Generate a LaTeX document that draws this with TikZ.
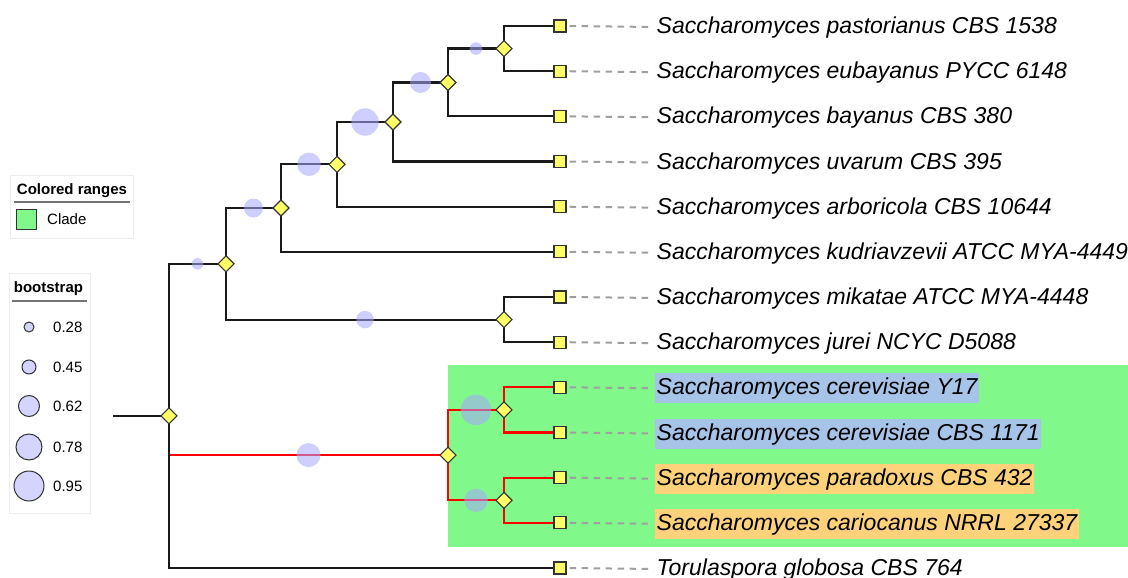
\documentclass[tikz,border=0pt]{standalone}
\usepackage{fontspec}
\setmainfont{Liberation Sans}
\usetikzlibrary{shapes.geometric,calc}
\pgfdeclarelayer{back}
\pgfdeclarelayer{edges}
\pgfdeclarelayer{bubbles}
\pgfsetlayers{back,edges,bubbles,main}
\definecolor{nodey}{HTML}{FFFF66}
\definecolor{clade}{HTML}{80F98A}
\definecolor{hlblue}{HTML}{A6C3E8}
\definecolor{hlorange}{HTML}{FDD27A}
\definecolor{bub}{RGB}{165,165,255}
\definecolor{legfill}{RGB}{212,212,255}
\definecolor{edgec}{HTML}{1A1A1A}
\begin{document}
\begin{tikzpicture}[x=1pt,y=-1pt,
  leaf/.style={rectangle,draw=black!80,line width=1.3pt,fill=nodey,minimum size=12pt,inner sep=0pt},
  split/.style={diamond,draw=black!80,line width=1.1pt,fill=nodey,minimum size=16.5pt,inner sep=0pt},
  edge/.style={draw=edgec,line width=2.2pt},
  redge/.style={draw=red,line width=2.2pt},
  guide/.style={draw=gray!75,line width=2pt,dash pattern=on 6.5pt off 5.5pt,shorten <=3pt,shorten >=3pt},
  taxon/.style={anchor=base west,inner xsep=1.5pt,inner ysep=0pt,text height=21.5pt,text depth=8.5pt,font=\fontsize{23}{27}\selectfont\itshape},
  bubble/.style={circle,fill=bub,fill opacity=0.55,inner sep=0pt,minimum size=#1},
  legbox/.style={draw=black!7,fill=white,line width=1pt,anchor=north west,inner sep=0pt},
  legtitle/.style={anchor=base,inner sep=0pt,font=\fontsize{15}{18}\selectfont\bfseries},
  legtext/.style={anchor=west,inner sep=0pt,font=\fontsize{15}{18}\selectfont},
  legline/.style={draw=black!55,line width=2pt},
  legbub/.style={circle,draw=black!80,line width=1pt,fill=legfill,inner sep=0pt,minimum size=#1}
]
\useasboundingbox (0,0) rectangle (1128,578);

% leaves
\foreach \i/\y in {1/26,2/71.2,3/116.3,4/161.5,5/206.7,6/251.8,7/297,8/342.2,9/387.3,10/432.5,11/477.7,12/522.8,13/568}
  \node[leaf] (L\i) at (560,\y) {};

% internal nodes
\node[split] (A) at (504,48.6) {};
\node[split] (B) at (448,82.5) {};
\node[split] (C) at (393,122) {};
\node[split] (D) at (337,164.3) {};
\node[split] (E) at (281,208) {};
\node[split] (F) at (504,319.6) {};
\node[split] (G) at (226,263.8) {};
\node[split] (H) at (504,409.9) {};
\node[split] (I) at (504,500.3) {};
\node[split] (J) at (448,455.1) {};
\node[split] (R) at (169,415.9) {};
\coordinate (stub) at (113,415.9);

% taxa labels
\path (L1) ++(95,7.5) node[taxon] (t1) {Saccharomyces pastorianus CBS 1538};
\path (L2) ++(95,7.5) node[taxon] (t2) {Saccharomyces eubayanus PYCC 6148};
\path (L3) ++(95,7.5) node[taxon] (t3) {Saccharomyces bayanus CBS 380};
\path (L4) ++(95,7.5) node[taxon] (t4) {Saccharomyces uvarum CBS 395};
\path (L5) ++(95,7.5) node[taxon] (t5) {Saccharomyces arboricola CBS 10644};
\path (L6) ++(95,7.5) node[taxon] (t6) {Saccharomyces kudriavzevii ATCC MYA-4449};
\path (L7) ++(95,7.5) node[taxon] (t7) {Saccharomyces mikatae ATCC MYA-4448};
\path (L8) ++(95,7.5) node[taxon] (t8) {Saccharomyces jurei NCYC D5088};
\path (L9) ++(95,7.5) node[taxon,fill=hlblue] (t9) {Saccharomyces cerevisiae Y17};
\path (L10) ++(95,7.5) node[taxon,fill=hlblue] (t10) {Saccharomyces cerevisiae CBS 1171};
\path (L11) ++(95,7.5) node[taxon,fill=hlorange] (t11) {Saccharomyces paradoxus CBS 432};
\path (L12) ++(95,7.5) node[taxon,fill=hlorange] (t12) {Saccharomyces cariocanus NRRL 27337};
\path (L13) ++(95,7.5) node[taxon] (t13) {Torulaspora globosa CBS 764};

% colored range
\begin{pgfonlayer}{back}
  \node[fill=clade,anchor=north west,inner sep=0pt,minimum width=680pt,minimum height=182pt] (range) at (448,365) {};
\end{pgfonlayer}

% edges
\begin{pgfonlayer}{edges}
  \foreach \i in {1,...,13} \draw[guide] (L\i.east) -- (t\i.west);
  \draw[redge] (R.center |- J.center) -- (J.center);
  \draw[redge] (J.center) |- (H.center);
  \draw[redge] (J.center) |- (I.center);
  \draw[redge] (H.center) |- (L9.center);
  \draw[redge] (H.center) |- (L10.center);
  \draw[redge] (I.center) |- (L11.center);
  \draw[redge] (I.center) |- (L12.center);
  \draw[edge] (stub) -- (R.center);
  \draw[edge] (R.center) |- (G.center);
  \draw[edge] (R.center) |- (L13.center);
  \draw[edge] (G.center) |- (E.center);
  \draw[edge] (G.center) |- (F.center);
  \draw[edge] (F.center) |- (L7.center);
  \draw[edge] (F.center) |- (L8.center);
  \draw[edge] (E.center) |- (D.center);
  \draw[edge] (E.center) |- (L6.center);
  \draw[edge] (D.center) |- (C.center);
  \draw[edge] (D.center) |- (L5.center);
  \draw[edge] (C.center) |- (B.center);
  \draw[edge] (C.center) |- (L4.center);
  \draw[edge] (B.center) |- (A.center);
  \draw[edge] (B.center) |- (L3.center);
  \draw[edge] (A.center) |- (L1.center);
  \draw[edge] (A.center) |- (L2.center);
\end{pgfonlayer}

% bootstrap bubbles
\begin{pgfonlayer}{bubbles}
  \node[bubble=12.6pt] (bA) at ($(B.center |- A.center)!0.5!(A.center)$) {};
  \node[bubble=21pt] (bB) at ($(C.center |- B.center)!0.5!(B.center)$) {};
  \node[bubble=27.5pt] (bC) at ($(D.center |- C.center)!0.5!(C.center)$) {};
  \node[bubble=23.5pt] (bD) at ($(E.center |- D.center)!0.5!(D.center)$) {};
  \node[bubble=19pt] (bE) at ($(G.center |- E.center)!0.5!(E.center)$) {};
  \node[bubble=11.5pt] (bG) at ($(R.center |- G.center)!0.5!(G.center)$) {};
  \node[bubble=17.5pt] (bF) at ($(G.center |- F.center)!0.5!(F.center)$) {};
  \node[bubble=24pt] (bJ) at ($(R.center |- J.center)!0.5!(J.center)$) {};
  \node[bubble=30.5pt] (bH) at ($(J.center |- H.center)!0.5!(H.center)$) {};
  \node[bubble=23.5pt] (bI) at ($(J.center |- I.center)!0.5!(I.center)$) {};
\end{pgfonlayer}

% legend: colored ranges
\node[legbox,minimum width=123pt,minimum height=63pt] (lg1) at (10,175) {};
\node[legtitle] (lg1t) at (72,194) {Colored ranges};
\draw[legline] (14,202) -- (130,202);
\node[rectangle,draw=black!80,line width=1pt,fill=clade,minimum size=20pt,inner sep=0pt] (sw) at (26.5,219.5) {};
\node[legtext] (swt) at (47,219.5) {Clade};

% legend: bootstrap
\node[legbox,minimum width=81pt,minimum height=240pt] (lg2) at (9,273) {};
\node[legtitle] (lg2t) at (48.5,292.5) {bootstrap};
\draw[legline] (12,301) -- (87,301);
\foreach \y/\d/\v [count=\k] in {327/10/0.28,367/14/0.45,406/21/0.62,447/26/0.78,486/30/0.95}{
  \node[legbub=\d pt] (lb\k) at (29,\y) {};
  \node[legtext] (lt\k) at (53,\y) {\v};
}
\end{tikzpicture}
\end{document}
